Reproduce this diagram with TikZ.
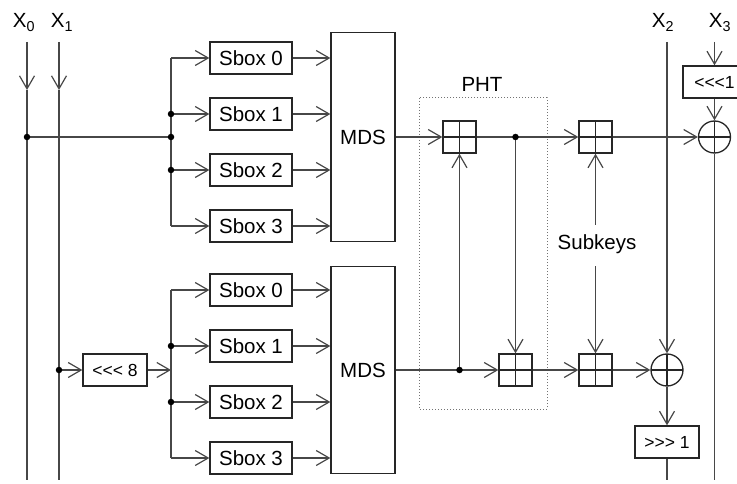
\documentclass[tikz,border=0pt]{standalone}
\usepackage{fontspec}
\setmainfont{Liberation Sans}[Ligatures=TeXOff]
\usetikzlibrary{arrows.meta}
\pgfdeclarelayer{bg}
\pgfsetlayers{bg,main}
\begin{document}
\begin{tikzpicture}[x=1pt,y=-1pt,
  wire/.style={line width=1.3pt, draw=black!72},
  arr/.style={wire, -{Straight Barb[length=13pt,width=15pt,line width=1.2pt]}},
  bigfont/.style={font=\fontsize{20.5}{24}\selectfont},
  smallfont/.style={font=\fontsize{17.5}{21}\selectfont},
  boxbase/.style={draw=black!85, fill=white, line width=1.3pt, inner sep=0pt},
  sbox/.style={boxbase, bigfont, minimum width=82pt, minimum height=32pt},
  mds/.style={boxbase, bigfont, minimum width=64pt},
  shiftbox/.style={boxbase, smallfont, minimum width=64pt, minimum height=32pt},
  addbox/.style={boxbase, minimum width=33pt, minimum height=32pt,
    path picture={\draw[black!85,line width=1.3pt]
      (path picture bounding box.north) -- (path picture bounding box.south)
      (path picture bounding box.west) -- (path picture bounding box.east);}},
  xorc/.style={boxbase, circle, minimum size=32pt,
    path picture={\draw[black!85,line width=1.3pt]
      (path picture bounding box.north) -- (path picture bounding box.south)
      (path picture bounding box.west) -- (path picture bounding box.east);}},
  dot/.style={circle, fill=black, inner sep=0pt, minimum size=6.5pt},
  lbl/.style={bigfont, inner sep=0pt, anchor=base}
]
\useasboundingbox (0,0) rectangle (737,484);

% labels
\node[lbl] (lx0) at (24,28) {X\textsubscript{0}};
\node[lbl] (lx1) at (62,28) {X\textsubscript{1}};
\node[lbl] (lx2) at (663,28) {X\textsubscript{2}};
\node[lbl] (lx3) at (720,28) {X\textsubscript{3}};
\node[lbl] (lpht) at (482,92) {PHT};
\node[bigfont, inner sep=0pt] (lsub) at (597,244) {Subkeys};

% coordinates
\coordinate (x0t) at (27,42);  \coordinate (x0a) at (27,90);  \coordinate (x0b) at (27,480);
\coordinate (x1t) at (59,42);  \coordinate (x1a) at (59,90);  \coordinate (x1b) at (59,480);
\coordinate (x2t) at (667,42); \coordinate (x2b) at (667,480);
\coordinate (x3t) at (714.5,42); \coordinate (x3b) at (714.5,480);
\coordinate (bt0) at (171,58); \coordinate (bt3) at (171,226);
\coordinate (bb0) at (171,290); \coordinate (bb3) at (171,458);
\coordinate (bin) at (171,370);
\coordinate (sk1) at (595.5,225); \coordinate (sk2) at (595.5,266);

% dots
\node[dot] (d0) at (27,137) {};
\node[dot] (d1) at (171,137) {};
\node[dot] (da1) at (171,114) {};
\node[dot] (da2) at (171,170) {};
\node[dot] (d8) at (59,370) {};
\node[dot] (db1) at (171,346) {};
\node[dot] (db2) at (171,402) {};
\node[dot] (pd1) at (515.5,137) {};
\node[dot] (pd2) at (459.5,370) {};

% boxes
\node[sbox] (sa0) at (251,58) {Sbox 0};
\node[sbox] (sa1) at (251,114) {Sbox 1};
\node[sbox] (sa2) at (251,170) {Sbox 2};
\node[sbox] (sa3) at (251,226) {Sbox 3};
\node[sbox] (sb0) at (251,290) {Sbox 0};
\node[sbox] (sb1) at (251,346) {Sbox 1};
\node[sbox] (sb2) at (251,402) {Sbox 2};
\node[sbox] (sb3) at (251,458) {Sbox 3};
\node[mds, minimum height=209pt] (mdsA) at (363,137) {MDS};
\node[mds, minimum height=207pt] (mdsB) at (363,370) {MDS};
\node[shiftbox] (rot8) at (115,370) {<<< 8};
\node[shiftbox, minimum width=63pt] (rot1) at (714.5,82) {<<<1};
\node[shiftbox] (rotr) at (667,442) {>>> 1};
\node[addbox] (pa) at (459.5,137) {};
\node[addbox] (pb) at (515.5,370) {};
\node[addbox] (ka) at (595.5,137) {};
\node[addbox] (kb) at (595.5,370) {};
\node[xorc] (xa) at (714.5,137) {};
\node[xorc] (xb) at (667,370) {};

\begin{pgfonlayer}{bg}
\draw[black!55, line width=1pt, dotted] (419,98) rectangle (547,409);
% inputs
\draw[arr] (x0t) -- (x0a); \draw[wire] (x0a) -- (x0b);
\draw[arr] (x1t) -- (x1a); \draw[wire] (x1a) -- (x1b);
% upper branch
\draw[wire] (d0.center) -- (d1.center);
\draw[wire] (bt0) -- (bt3);
\draw[arr] (bt0) -- (sa0.west);
\draw[arr] (da1.center) -- (sa1.west);
\draw[arr] (da2.center) -- (sa2.west);
\draw[arr] (bt3) -- (sa3.west);
\foreach \s in {sa0,sa1,sa2,sa3} \draw[arr] (\s.east) -- (\s.east -| mdsA.west);
% lower branch
\draw[arr] (d8.center) -- (rot8.west);
\draw[arr] (rot8.east) -- (bin);
\draw[wire] (bb0) -- (bb3);
\draw[arr] (bb0) -- (sb0.west);
\draw[arr] (db1.center) -- (sb1.west);
\draw[arr] (db2.center) -- (sb2.west);
\draw[arr] (bb3) -- (sb3.west);
\foreach \s in {sb0,sb1,sb2,sb3} \draw[arr] (\s.east) -- (\s.east -| mdsB.west);
% upper line
\draw[arr] (mdsA.east) -- (pa.west);
\draw[wire] (pa.east) -- (pd1.center);
\draw[arr] (pd1.center) -- (ka.west);
\draw[arr] (ka.east) -- (xa.west);
% lower line
\draw[wire] (mdsB.east) -- (pd2.center);
\draw[arr] (pd2.center) -- (pb.west);
\draw[arr] (pb.east) -- (kb.west);
\draw[arr] (kb.east) -- (xb.west);
% PHT cross links
\draw[arr] (pd2.center) -- (pa.south);
\draw[arr] (pd1.center) -- (pb.north);
% subkeys
\draw[arr] (sk1) -- (ka.south);
\draw[arr] (sk2) -- (kb.north);
% right side
\draw[arr] (x2t) -- (xb.north);
\draw[arr] (xb.south) -- (rotr.north);
\draw[wire] (rotr.south) -- (x2b);
\draw[arr] (x3t) -- (rot1.north);
\draw[arr] (rot1.south) -- (xa.north);
\draw[wire] (xa.south) -- (x3b);
\end{pgfonlayer}
\end{tikzpicture}
\end{document}
